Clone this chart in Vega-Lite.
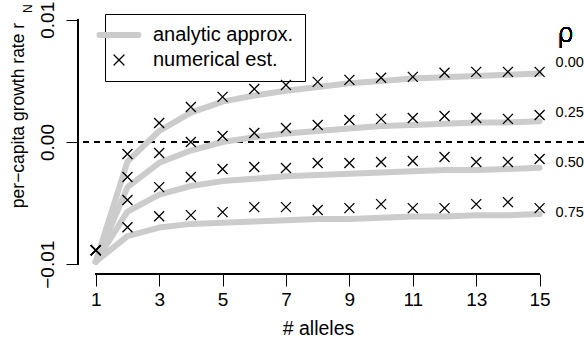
{
  "$schema": "https://vega.github.io/schema/vega-lite/v6.json",
  "width": 506,
  "height": 264,
  "autosize": {"type": "none"},
  "padding": {"left": 78, "top": 10, "right": 0, "bottom": 65},
  "background": "white",
  "title": {"text": "N", "orient": "left", "anchor": "end", "fontSize": 12, "font": "Liberation Sans", "fontWeight": "normal", "color": "black", "offset": -20, "dx": -3, "dy": 6},
  "config": {
    "view": {"stroke": null},
    "font": "Liberation Sans",
    "axis": {"domain": false, "grid": false, "tickColor": "black", "labelColor": "black", "titleColor": "black", "labelFont": "Liberation Sans", "titleFont": "Liberation Sans", "labelFontSize": 19, "titleFontSize": 19.5, "titleFontWeight": "normal", "tickSize": 12, "tickWidth": 1}
  },
  "datasets": {
    "rholabels": [
      {"lab": "0.00", "y": 0.00648},
      {"lab": "0.25", "y": 0.00238},
      {"lab": "0.50", "y": -0.00172},
      {"lab": "0.75", "y": -0.00582}
    ]
  },
  "data": {"values": [
    {"n":1,"rho":"0.00","analytic":-0.0098,"numerical":-0.00885},
    {"n":2,"rho":"0.00","analytic":-0.0016,"numerical":-0.00098},
    {"n":3,"rho":"0.00","analytic":0.0009,"numerical":0.00156},
    {"n":4,"rho":"0.00","analytic":0.0024,"numerical":0.00287},
    {"n":5,"rho":"0.00","analytic":0.0033,"numerical":0.00369},
    {"n":6,"rho":"0.00","analytic":0.0038,"numerical":0.00434},
    {"n":7,"rho":"0.00","analytic":0.0042,"numerical":0.00467},
    {"n":8,"rho":"0.00","analytic":0.0045,"numerical":0.00492},
    {"n":9,"rho":"0.00","analytic":0.0048,"numerical":0.00508},
    {"n":10,"rho":"0.00","analytic":0.0050,"numerical":0.00525},
    {"n":11,"rho":"0.00","analytic":0.0052,"numerical":0.00533},
    {"n":12,"rho":"0.00","analytic":0.0053,"numerical":0.00566},
    {"n":13,"rho":"0.00","analytic":0.0054,"numerical":0.00574},
    {"n":14,"rho":"0.00","analytic":0.0055,"numerical":0.00574},
    {"n":15,"rho":"0.00","analytic":0.0056,"numerical":0.00574},
    {"n":1,"rho":"0.25","analytic":-0.0098,"numerical":-0.00885},
    {"n":2,"rho":"0.25","analytic":-0.0037,"numerical":-0.00287},
    {"n":3,"rho":"0.25","analytic":-0.0017,"numerical":-0.0009},
    {"n":4,"rho":"0.25","analytic":-0.0007,"numerical":0.0},
    {"n":5,"rho":"0.25","analytic":0.0000,"numerical":0.00049},
    {"n":6,"rho":"0.25","analytic":0.0004,"numerical":0.00074},
    {"n":7,"rho":"0.25","analytic":0.0007,"numerical":0.00115},
    {"n":8,"rho":"0.25","analytic":0.0009,"numerical":0.00139},
    {"n":9,"rho":"0.25","analytic":0.0011,"numerical":0.0018},
    {"n":10,"rho":"0.25","analytic":0.0013,"numerical":0.00189},
    {"n":11,"rho":"0.25","analytic":0.0014,"numerical":0.00197},
    {"n":12,"rho":"0.25","analytic":0.0015,"numerical":0.00213},
    {"n":13,"rho":"0.25","analytic":0.0016,"numerical":0.00197},
    {"n":14,"rho":"0.25","analytic":0.0016,"numerical":0.00189},
    {"n":15,"rho":"0.25","analytic":0.0017,"numerical":0.00221},
    {"n":1,"rho":"0.50","analytic":-0.0098,"numerical":-0.00885},
    {"n":2,"rho":"0.50","analytic":-0.0057,"numerical":-0.00475},
    {"n":3,"rho":"0.50","analytic":-0.0043,"numerical":-0.00369},
    {"n":4,"rho":"0.50","analytic":-0.0036,"numerical":-0.00287},
    {"n":5,"rho":"0.50","analytic":-0.0032,"numerical":-0.00221},
    {"n":6,"rho":"0.50","analytic":-0.0030,"numerical":-0.00205},
    {"n":7,"rho":"0.50","analytic":-0.0028,"numerical":-0.00213},
    {"n":8,"rho":"0.50","analytic":-0.0027,"numerical":-0.00172},
    {"n":9,"rho":"0.50","analytic":-0.0026,"numerical":-0.00172},
    {"n":10,"rho":"0.50","analytic":-0.0025,"numerical":-0.00164},
    {"n":11,"rho":"0.50","analytic":-0.0024,"numerical":-0.00156},
    {"n":12,"rho":"0.50","analytic":-0.0023,"numerical":-0.00123},
    {"n":13,"rho":"0.50","analytic":-0.0023,"numerical":-0.00164},
    {"n":14,"rho":"0.50","analytic":-0.0022,"numerical":-0.00164},
    {"n":15,"rho":"0.50","analytic":-0.0021,"numerical":-0.00139},
    {"n":1,"rho":"0.75","analytic":-0.0098,"numerical":-0.00885},
    {"n":2,"rho":"0.75","analytic":-0.0077,"numerical":-0.00697},
    {"n":3,"rho":"0.75","analytic":-0.0070,"numerical":-0.00607},
    {"n":4,"rho":"0.75","analytic":-0.0067,"numerical":-0.00598},
    {"n":5,"rho":"0.75","analytic":-0.0066,"numerical":-0.00574},
    {"n":6,"rho":"0.75","analytic":-0.0065,"numerical":-0.00533},
    {"n":7,"rho":"0.75","analytic":-0.0064,"numerical":-0.00533},
    {"n":8,"rho":"0.75","analytic":-0.0063,"numerical":-0.00557},
    {"n":9,"rho":"0.75","analytic":-0.0063,"numerical":-0.00541},
    {"n":10,"rho":"0.75","analytic":-0.0062,"numerical":-0.00508},
    {"n":11,"rho":"0.75","analytic":-0.0061,"numerical":-0.00541},
    {"n":12,"rho":"0.75","analytic":-0.0061,"numerical":-0.00541},
    {"n":13,"rho":"0.75","analytic":-0.0060,"numerical":-0.00508},
    {"n":14,"rho":"0.75","analytic":-0.0060,"numerical":-0.00492},
    {"n":15,"rho":"0.75","analytic":-0.0059,"numerical":-0.00541}
  ]},
  "layer": [
    {
      "mark": {"type": "rule", "color": "black", "strokeWidth": 1, "strokeDash": [6, 5]},
      "encoding": {"y": {"datum": 0, "type": "quantitative"}}
    },
    {
      "mark": {"type": "line", "strokeWidth": 6, "strokeCap": "round", "strokeJoin": "round"},
      "encoding": {
        "x": {"field": "n", "type": "quantitative", "scale": {"domain": [0.44, 16.4], "nice": false, "zero": false},
              "axis": {"values": [1, 3, 5, 7, 9, 11, 13, 15], "title": "# alleles", "labelPadding": 4, "titleX": 240, "titleY": 54, "titleBaseline": "middle", "titleAnchor": null}},
        "y": {"field": "analytic", "type": "quantitative", "scale": {"domain": [-0.0108, 0.0108], "nice": false, "zero": false},
              "axis": {"values": [-0.01, 0, 0.01], "format": ".2f", "labelAngle": 270, "labelAlign": "center", "labelBaseline": "bottom", "labelPadding": 9, "title": "per−capita growth rate r", "titleFontSize": 17.5, "titleAngle": 270, "titleX": -60, "titleY": 105, "titleAlign": "center", "titleBaseline": "middle"}},
        "detail": {"field": "rho"},
        "color": {"datum": "analytic approx.", "type": "nominal",
                  "scale": {"domain": ["analytic approx.", "numerical est."], "range": ["#cccccc", "black"]},
                  "legend": {"orient": "none", "legendX": 27, "legendY": 4, "title": null, "strokeColor": "black", "padding": 11, "symbolOffset": -7, "labelFontSize": 20, "labelFont": "Liberation Sans", "labelColor": "black", "labelOffset": 24, "rowPadding": 3, "symbolSize": 1521, "symbolStrokeWidth": 6, "symbolType": "stroke",
                    "encode": {"symbols": {"update": {
                      "shape": {"signal": "datum.value === 'analytic approx.' ? 'stroke' : 'M-1,-1L1,1M1,-1L-1,1'"},
                      "size": {"signal": "datum.value === 'analytic approx.' ? 1521 : 100"},
                      "strokeWidth": {"signal": "datum.value === 'analytic approx.' ? 6 : 1.3"},
                      "stroke": {"signal": "datum.value === 'analytic approx.' ? '#cccccc' : 'black'"},
                      "strokeCap": {"value": "round"},
                      "fill": {"value": "transparent"},
                      "opacity": {"value": 1}
                    }}}}}
      }
    },
    {
      "mark": {"type": "point", "shape": "M-1,-1L1,1M1,-1L-1,1", "size": 100, "strokeWidth": 1.3, "filled": false, "opacity": 1},
      "encoding": {
        "x": {"field": "n", "type": "quantitative"},
        "y": {"field": "numerical", "type": "quantitative"},
        "color": {"datum": "numerical est.", "type": "nominal"}
      }
    },
    {
      "mark": {"type": "rule", "color": "black", "strokeWidth": 1},
      "encoding": {"x": {"datum": 0.44, "type": "quantitative"}, "y": {"datum": -0.01, "type": "quantitative"}, "y2": {"datum": 0.01}}
    },
    {
      "mark": {"type": "rule", "color": "black", "strokeWidth": 1},
      "encoding": {"y": {"datum": -0.0108, "type": "quantitative"}, "x": {"datum": 1, "type": "quantitative"}, "x2": {"datum": 15}}
    },
    {
      "data": {"name": "rholabels"},
      "mark": {"type": "text", "align": "left", "baseline": "middle", "fontSize": 14.5, "dx": 16, "color": "black", "font": "Liberation Sans"},
      "encoding": {"x": {"datum": 15, "type": "quantitative"}, "y": {"field": "y", "type": "quantitative"}, "text": {"field": "lab"}}
    },
    {
      "mark": {"type": "text", "align": "center", "baseline": "middle", "fontSize": 26, "dx": 26, "color": "black", "font": "DejaVu Sans", "fontWeight": 200},
      "encoding": {"x": {"datum": 15, "type": "quantitative"}, "y": {"datum": 0.0088, "type": "quantitative"}, "text": {"value": "ρ"}}
    }
  ]
}
